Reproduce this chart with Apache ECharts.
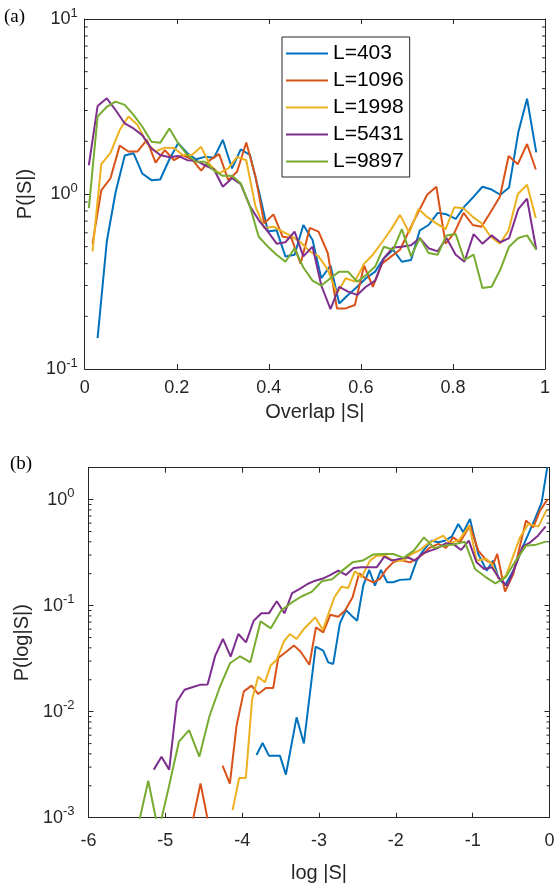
<!DOCTYPE html>
<html><head><meta charset="utf-8">
<script src="https://cdn.jsdelivr.net/npm/echarts@6/dist/echarts.min.js"></script>
<style>html,body{margin:0;padding:0;background:#fff}#c{width:554px;height:886px}</style>
</head><body><div id="c"></div>
<script>
const seriesNames = ['L=403','L=1096','L=1998','L=5431','L=9897'];
const colors = ['#0072BD','#D95319','#EDB120','#7E2F8E','#77AC30'];

// ---------- panel (a): P(|S|) vs overlap |S| ----------
const xA = [0.009,0.028,0.048,0.067,0.087,0.106,0.125,0.145,0.164,0.184,0.203,0.223,0.242,0.261,0.281,0.300,0.320,0.339,0.359,0.378,0.398,0.417,0.436,0.456,0.475,0.495,0.514,0.534,0.553,0.572,0.592,0.611,0.631,0.650,0.670,0.689,0.709,0.728,0.747,0.767,0.786,0.806,0.825,0.845,0.864,0.884,0.903,0.922,0.942,0.961,0.981];
const xB = [0.017,0.036,0.056,0.076,0.095,0.115,0.135,0.154,0.174,0.194,0.213,0.233,0.253,0.272,0.292,0.312,0.331,0.351,0.371,0.390,0.410,0.430,0.449,0.469,0.489,0.508,0.528,0.548,0.567,0.587,0.607,0.626,0.646,0.666,0.685,0.705,0.725,0.744,0.764,0.784,0.803,0.823,0.843,0.862,0.882,0.902,0.921,0.941,0.961,0.980];
const a403 = [null,0.15,0.535,1.02,1.66,1.71,1.31,1.20,1.21,1.58,1.95,1.71,1.58,1.63,1.61,2.04,1.40,1.80,1.67,1.05,0.61,0.62,0.44,0.45,0.665,0.546,0.33,0.39,0.237,0.265,0.295,0.33,0.36,0.43,0.48,0.41,0.42,0.62,0.665,0.78,0.765,0.72,0.85,0.965,1.10,1.06,0.99,1.09,2.25,3.5,1.73];
const a1096 = [0.52,1.05,1.23,1.89,1.75,1.75,2.04,1.51,1.78,1.56,1.67,1.58,1.36,1.56,1.69,1.20,1.34,1.97,1.26,0.68,0.765,0.57,0.56,0.40,0.64,0.61,0.46,0.222,0.222,0.232,0.39,0.295,0.40,0.44,0.48,0.62,0.79,0.99,1.10,0.52,0.60,0.78,0.665,0.65,0.79,0.965,1.65,1.48,1.93,1.38];
const a1998 = [0.47,1.48,1.72,2.32,2.77,2.48,1.95,1.75,1.84,1.83,1.67,1.67,1.86,1.47,1.31,1.40,1.63,1.56,0.85,0.64,0.65,0.61,0.575,0.53,0.47,0.44,0.37,0.27,0.33,0.316,0.40,0.45,0.53,0.63,0.76,0.60,0.82,0.74,0.68,0.63,0.84,0.83,0.74,0.68,0.57,0.52,0.62,1.0,1.13,0.73];
const a5431 = [1.46,3.18,3.52,3.02,2.53,2.37,2.17,1.82,1.67,1.62,1.65,1.56,1.55,1.46,1.38,1.1,1.23,1.14,0.85,0.71,0.61,0.52,0.53,0.61,0.44,0.50,0.30,0.22,0.295,0.277,0.265,0.295,0.32,0.43,0.495,0.50,0.51,0.56,0.49,0.47,0.56,0.45,0.41,0.59,0.52,0.58,0.53,0.56,0.82,0.94,0.48];
const a9897 = [0.83,2.77,3.15,3.37,3.23,2.83,2.43,1.99,1.96,2.37,1.95,1.67,1.53,1.53,1.36,1.27,1.27,1.15,0.85,0.57,0.50,0.45,0.41,0.49,0.38,0.32,0.30,0.33,0.36,0.36,0.315,0.344,0.385,0.50,0.48,0.63,0.44,0.56,0.46,0.45,0.58,0.59,0.42,0.45,0.29,0.295,0.37,0.50,0.56,0.58,0.48];

// ---------- panel (b): P(log|S|) vs log |S| ----------
const b403x = [-3.813,-3.734,-3.652,-3.509,-3.431,-3.292,-3.197,-3.044,-2.945,-2.880,-2.815,-2.728,-2.650,-2.576,-2.503,-2.424,-2.346,-2.272,-2.194,-2.112,-2.034,-1.947,-1.816,-1.729,-1.643,-1.534,-1.447,-1.361,-1.273,-1.187,-1.122,-1.035,-0.927,-0.818,-0.732,-0.667,-0.579,-0.471,-0.341,-0.189,-0.102,-0.03];
const b403y = [0.0039,0.00507,0.00385,0.00385,0.00255,0.00884,0.00502,0.041,0.0376,0.0292,0.0282,0.068,0.091,0.0805,0.0722,0.1545,0.217,0.1545,0.217,0.166,0.166,0.175,0.177,0.266,0.33,0.41,0.396,0.41,0.448,0.59,0.492,0.657,0.307,0.214,0.266,0.185,0.155,0.214,0.368,0.657,0.94,2.0];
const b1096x = [-4.638,-4.542,-4.451,-4.35,-4.255,-4.160,-4.073,-3.978,-3.878,-3.792,-3.691,-3.596,-3.531,-3.422,-3.327,-3.240,-3.125,-3.040,-2.945,-2.853,-2.750,-2.663,-2.563,-2.477,-2.389,-2.294,-2.207,-2.120,-2.034,-1.947,-1.816,-1.729,-1.643,-1.565,-1.447,-1.348,-1.253,-1.165,-1.035,-0.927,-0.818,-0.732,-0.680,-0.579,-0.471,-0.306,-0.211,-0.124,-0.024];
const b1096y = [0.00098,0.0021,0.00098,null,0.0031,0.0021,0.00738,0.01555,0.0176,0.0147,0.0167,0.0167,0.0321,0.037,0.042,0.037,0.0277,0.0624,0.056,0.082,0.0787,0.0897,0.12,0.202,0.179,0.166,0.179,0.222,0.256,0.27,0.256,0.276,0.307,0.35,0.382,0.35,0.44,0.396,0.569,0.33,0.266,0.247,0.307,0.136,0.199,0.634,0.548,0.787,1.01];
const b1998x = [-4.125,-4.039,-3.952,-3.870,-3.792,-3.704,-3.630,-3.552,-3.457,-3.379,-3.292,-3.197,-3.050,-2.950,-2.800,-2.706,-2.620,-2.533,-2.445,-2.337,-2.250,-2.142,-2.034,-1.904,-1.794,-1.686,-1.578,-1.491,-1.383,-1.296,-1.174,-1.044,-0.948,-0.818,-0.753,-0.645,-0.566,-0.475,-0.384,-0.276,-0.146,-0.037];
const b1998y = [0.00118,0.00237,0.00237,0.0132,0.0214,0.0189,0.0272,0.0307,0.046,0.054,0.0485,0.0603,0.0776,0.059,0.12,0.151,0.147,0.211,0.185,0.266,0.296,0.296,0.266,0.266,0.307,0.335,0.387,0.417,0.457,0.387,0.417,0.569,0.266,0.276,0.247,0.172,0.192,0.29,0.44,0.59,0.556,0.80];
const b5431x = [-5.15,-5.05,-4.95,-4.85,-4.75,-4.65,-4.55,-4.45,-4.35,-4.25,-4.15,-4.05,-3.95,-3.85,-3.75,-3.65,-3.55,-3.45,-3.35,-3.25,-3.15,-3.05,-2.95,-2.85,-2.75,-2.65,-2.55,-2.45,-2.35,-2.25,-2.15,-2.05,-1.95,-1.85,-1.75,-1.65,-1.55,-1.45,-1.35,-1.25,-1.15,-1.05,-0.95,-0.85,-0.75,-0.65,-0.55,-0.45,-0.35,-0.25,-0.15,-0.05];
const b5431y = [0.00284,0.00376,0.00284,0.0124,0.0161,0.0170,0.0179,0.0180,0.0338,0.0485,0.033,0.054,0.045,0.072,0.0847,0.085,0.110,0.0847,0.131,0.144,0.16,0.172,0.18,0.195,0.214,0.195,0.227,0.23,0.23,0.23,0.29,0.266,0.276,0.286,0.266,0.31,0.33,0.35,0.387,0.38,0.335,0.41,0.256,0.222,0.23,0.179,0.154,0.23,0.36,0.396,0.457,0.56];
const b9897x = [-5.355,-5.222,-5.089,-4.956,-4.823,-4.691,-4.558,-4.425,-4.292,-4.159,-4.026,-3.893,-3.760,-3.627,-3.494,-3.362,-3.229,-3.096,-2.963,-2.830,-2.697,-2.564,-2.431,-2.298,-2.165,-2.033,-1.900,-1.767,-1.634,-1.501,-1.368,-1.235,-1.102,-0.969,-0.836,-0.704,-0.571,-0.438,-0.305,-0.172,-0.039];
const b9897y = [0.00083,0.00223,0.00074,0.00193,0.00521,0.00671,0.00376,0.0091,0.017,0.0286,0.0333,0.0292,0.0711,0.0611,0.0897,0.106,0.122,0.135,0.17,0.177,0.214,0.256,0.266,0.303,0.307,0.307,0.282,0.33,0.44,0.35,0.368,0.38,0.40,0.222,0.187,0.1625,0.185,0.266,0.368,0.376,0.404];

// minor tick values of the log axes
const minorA = [0.2,0.3,0.4,0.5,0.6,0.7,0.8,0.9,2,3,4,5,6,7,8,9];
const minorB = [0.002,0.003,0.004,0.005,0.006,0.007,0.008,0.009,0.02,0.03,0.04,0.05,0.06,0.07,0.08,0.09,0.2,0.3,0.4,0.5,0.6,0.7,0.8,0.9];

const FONT = '"Liberation Sans", Arial, Helvetica, sans-serif';
const AX = '#262626';

function pairs(xs, ys) { return xs.map((x, i) => [x, ys[i]]); }

const chart = echarts.init(document.getElementById('c'), null, {renderer: 'canvas'});

function logLabel(v) {
  const l = Math.log10(v); const e = Math.round(l);
  if (Math.abs(l - e) > 1e-6) return '';
  return '{b|10}{s|' + e + '}';
}
const richLab = {
  b: {fontSize: 18, fontFamily: FONT, color: AX},
  s: {fontSize: 13, fontFamily: FONT, color: AX, padding: [0, 0, 12, 0]}
};

function xAxisDef(grid, min, max, interval, pos, name, show, margin, gap) {
  return {
    type: 'value', gridIndex: grid, min: min, max: max, interval: interval, position: pos,
    axisLine: {show: true, onZero: false, lineStyle: {color: AX, width: 1}},
    axisTick: {show: true, inside: true, length: 5, lineStyle: {color: AX}},
    axisLabel: {show: show, margin: margin, fontSize: 18, fontFamily: FONT, color: AX},
    splitLine: {show: false},
    name: show ? name : '', nameLocation: 'middle', nameGap: gap,
    nameTextStyle: {fontSize: 20, fontFamily: FONT, color: AX}
  };
}
function yAxisDef(grid, min, max, pos, name, show, gap, margin) {
  return {
    type: 'log', logBase: 10, gridIndex: grid, min: min, max: max, position: pos,
    axisLine: {show: true, onZero: false, lineStyle: {color: AX, width: 1}},
    axisTick: {show: true, inside: true, length: 5, lineStyle: {color: AX}},
    axisLabel: {show: show, margin: margin, formatter: logLabel, rich: richLab, fontFamily: FONT},
    splitLine: {show: false}, minorTick: {show: false},
    name: show ? name : '', nameLocation: 'middle', nameGap: gap, nameRotate: 90,
    nameTextStyle: {fontSize: 20, fontFamily: FONT, color: AX}
  };
}
function minorTickSeries(xi, yi, vals, xmin, xmax) {
  return {
    type: 'custom', xAxisIndex: xi, yAxisIndex: yi, silent: true, clip: false, z: 5,
    data: vals.map(v => [xmin, v]),
    renderItem: function (params, api) {
      const v = api.value(1);
      const l = api.coord([xmin, v]); const r = api.coord([xmax, v]);
      return {type: 'group', children: [
        {type: 'line', shape: {x1: l[0], y1: l[1], x2: l[0] + 3, y2: l[1]}, style: {stroke: AX, lineWidth: 1}},
        {type: 'line', shape: {x1: r[0], y1: r[1], x2: r[0] - 3, y2: r[1]}, style: {stroke: AX, lineWidth: 1}}
      ]};
    }
  };
}
function lineSeries(name, color, data, xi, yi) {
  return {
    name: name, type: 'line', xAxisIndex: xi, yAxisIndex: yi, data: data,
    showSymbol: false, symbol: 'none', smooth: false, connectNulls: false, clip: true,
    lineStyle: {color: color, width: 2}, itemStyle: {color: color}, emphasis: {disabled: true},
    animation: false
  };
}

const topX = [xA, xB, xB, xA, xA];
const topY = [a403, a1096, a1998, a5431, a9897];
const botX = [b403x, b1096x, b1998x, b5431x, b9897x];
const botY = [b403y, b1096y, b1998y, b5431y, b9897y];

const series = [];
for (let i = 0; i < 5; i++) series.push(lineSeries(seriesNames[i], colors[i], pairs(topX[i], topY[i]), 0, 0));
for (let i = 0; i < 5; i++) series.push(lineSeries(seriesNames[i], colors[i], pairs(botX[i], botY[i]), 2, 2));
series.push(minorTickSeries(0, 0, minorA, 0, 1));
series.push(minorTickSeries(2, 2, minorB, -6, 0));

chart.setOption({
  animation: false,
  backgroundColor: '#fff',
  grid: [
    {left: 84.7, top: 19, width: 460.3, height: 350, containLabel: false, outerBoundsMode: 'none'},
    {left: 88.5, top: 467.7, width: 461, height: 350, containLabel: false, outerBoundsMode: 'none'}
  ],
  xAxis: [
    xAxisDef(0, 0, 1, 0.2, 'bottom', 'Overlap |S|', true, 10, 33),
    xAxisDef(0, 0, 1, 0.2, 'top', '', false, 10, 0),
    xAxisDef(1, -6, 0, 1, 'bottom', 'log |S|', true, 14, 46),
    xAxisDef(1, -6, 0, 1, 'top', '', false, 10, 0)
  ],
  yAxis: [
    yAxisDef(0, 0.1, 10, 'left', 'P(|S|)', true, 44, 7),
    yAxisDef(0, 0.1, 10, 'right', '', false, 0, 7),
    yAxisDef(1, 0.001, 2, 'left', 'P(log|S|)', true, 56, 14),
    yAxisDef(1, 0.001, 2, 'right', '', false, 0, 14)
  ],
  legend: {
    data: seriesNames, orient: 'vertical', left: 282, top: 37,
    icon: 'rect', itemWidth: 42, itemHeight: 2, itemGap: 0,
    padding: [3, 6, 2, 4], borderColor: AX, borderWidth: 1, backgroundColor: '#fff',
    textStyle: {fontSize: 21, lineHeight: 27, fontFamily: FONT, color: '#000'},
    selectedMode: false
  },
  graphic: [
    {type: 'text', left: 4, top: 8, style: {text: '(a)', fontSize: 19, fontFamily: '"Liberation Serif", "Times New Roman", serif', fill: '#000'}},
    {type: 'text', left: 10, top: 455, style: {text: '(b)', fontSize: 19, fontFamily: '"Liberation Serif", "Times New Roman", serif', fill: '#000'}}
  ],
  series: series
});
</script>
</body></html>
